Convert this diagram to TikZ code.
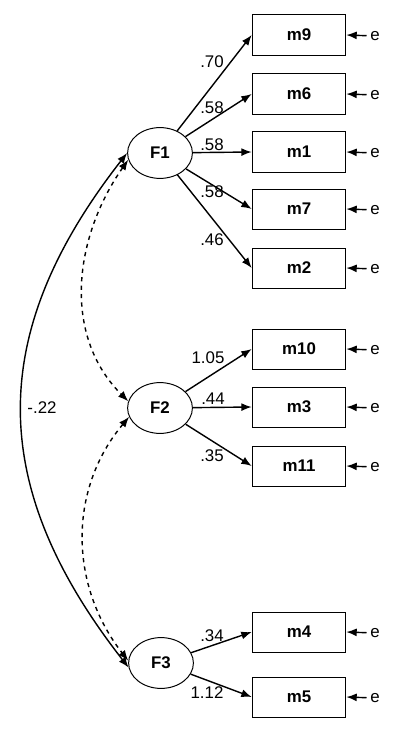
\documentclass[tikz,border=0pt]{standalone}
\usepackage{fontspec}
\setmainfont{Liberation Sans}
\usetikzlibrary{arrows.meta,shapes.geometric}
\tikzset{>={Latex[width=2mm,length=2.6mm]}}
\tikzset{
	factor/.style={ellipse,draw,line width=0.7pt,minimum width=1.62cm,minimum height=1.27cm,inner sep=0pt,font=\fontsize{12}{14}\selectfont\bfseries},
	item/.style={rectangle,draw,line width=0.7pt,minimum width=2.34cm,minimum height=1.0cm,inner sep=0pt,font=\fontsize{12}{14}\selectfont\bfseries},
	load/.style={->,line width=1pt},
	err/.style={inner sep=2.5pt},
	coef/.style={inner sep=0pt}
}

\begin{document}
\begin{tikzpicture}[x=0.025cm,y=-0.025cm,font=\fontsize{12}{14}\selectfont]
		\useasboundingbox (0,0) rectangle (400,734);

		% factors
		\node[factor] (F1) at (160,153) {F1};
		\node[factor] (F2) at (160,408) {F2};
		\node[factor] (F3) at (161,663) {F3};

		% items of F1
		\node[item] (m9) at (299,35) {m9};
		\node[item] (m6) at (299,94) {m6};
		\node[item] (m1) at (299,152) {m1};
		\node[item] (m7) at (299,209) {m7};
		\node[item] (m2) at (299,268) {m2};

		% items of F2
		\node[item] (m10) at (299,349) {m10};
		\node[item] (m3) at (299,407) {m3};
		\node[item] (m11) at (299,466) {m11};

		% items of F3
		\node[item] (m4) at (299,632) {m4};
		\node[item] (m5) at (299,697) {m5};

		% loadings
		\draw[load] (F1) -- (m9.west);
		\draw[load] (F1) -- (m6.west);
		\draw[load] (F1) -- (m1.west);
		\draw[load] (F1) -- (m7.west);
		\draw[load] (F1) -- (m2.west);
		\draw[load] (F2) -- (m10.west);
		\draw[load] (F2) -- (m3.west);
		\draw[load] (F2) -- (m11.west);
		\draw[load] (F3) -- (m4.west);
		\draw[load] (F3) -- (m5.west);

		% loading values
		\node[coef] (c9) at (212,62) {.70};
		\node[coef] (c6) at (212,108) {.58};
		\node[coef] (c1) at (212,145) {.58};
		\node[coef] (c7) at (212,192) {.58};
		\node[coef] (c2) at (212,240) {.46};
		\node[coef] (c10) at (208,358) {1.05};
		\node[coef] (c3) at (213,399) {.44};
		\node[coef] (c11) at (212,456) {.35};
		\node[coef] (c4) at (212,636) {.34};
		\node[coef] (c5) at (207,693) {1.12};

		% error terms
		\node[err] (e9) at (375,36) {e};
		\node[err] (e6) at (375,95) {e};
		\node[err] (e1) at (375,153) {e};
		\node[err] (e7) at (375,210) {e};
		\node[err] (e2) at (375,269) {e};
		\node[err] (e10) at (375,350) {e};
		\node[err] (e3) at (375,408) {e};
		\node[err] (e11) at (375,467) {e};
		\node[err] (e4) at (375,633) {e};
		\node[err] (e5) at (375,698) {e};
		\draw[load] (e9) -- (m9.east);
		\draw[load] (e6) -- (m6.east);
		\draw[load] (e1) -- (m1.east);
		\draw[load] (e7) -- (m7.east);
		\draw[load] (e2) -- (m2.east);
		\draw[load] (e10) -- (m10.east);
		\draw[load] (e3) -- (m3.east);
		\draw[load] (e11) -- (m11.east);
		\draw[load] (e4) -- (m4.east);
		\draw[load] (e5) -- (m5.east);

		% covariances
		\draw[<->,line width=1pt] (F1.west) to[out=232,in=128,looseness=1.14] (F3.188);
		\draw[<->,line width=1pt,dashed] (F1.192) to[out=235,in=135] (F2.168);
		\draw[<->,line width=1pt,dashed] (F2.196) to[out=230,in=128] (F3.176);
		\node[coef] (c13) at (42,408) {-.22};

	\end{tikzpicture}
\end{document}
